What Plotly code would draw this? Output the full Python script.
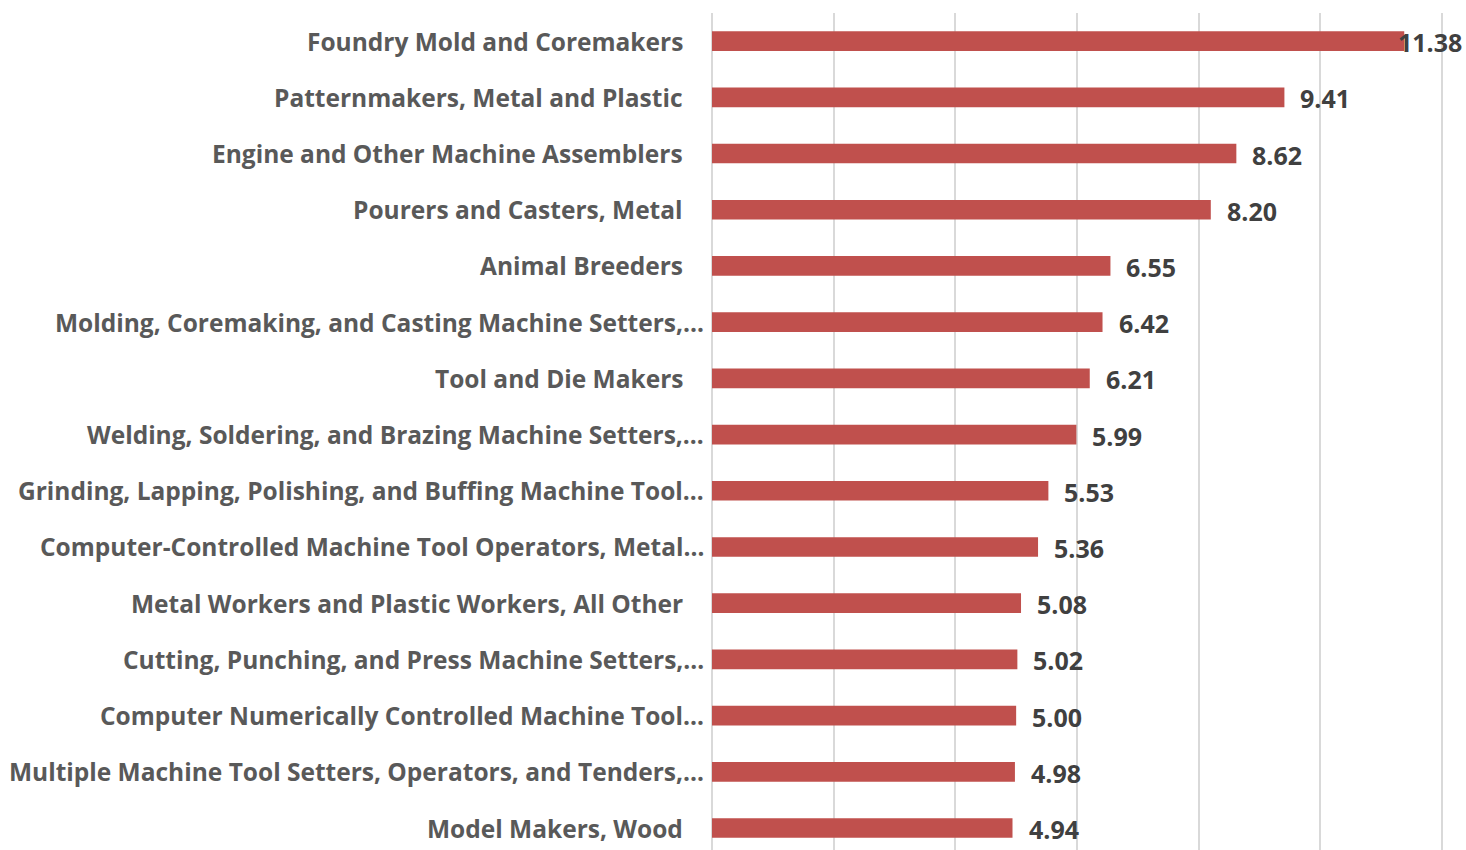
import plotly.graph_objects as go

categories = [
    "Foundry Mold and Coremakers",
    "Patternmakers, Metal and Plastic",
    "Engine and Other Machine Assemblers",
    "Pourers and Casters, Metal",
    "Animal Breeders",
    "Molding, Coremaking, and Casting Machine Setters,…",
    "Tool and Die Makers",
    "Welding, Soldering, and Brazing Machine Setters,…",
    "Grinding, Lapping, Polishing, and Buffing Machine Tool…",
    "Computer-Controlled Machine Tool Operators, Metal…",
    "Metal Workers and Plastic Workers, All Other",
    "Cutting, Punching, and Press Machine Setters,…",
    "Computer Numerically Controlled Machine Tool…",
    "Multiple Machine Tool Setters, Operators, and Tenders,…",
    "Model Makers, Wood",
]
values = [11.38, 9.41, 8.62, 8.20, 6.55, 6.42, 6.21, 5.99, 5.53, 5.36, 5.08, 5.02, 5.00, 4.98, 4.94]

FONT = "Open Sans"
fig = go.Figure()
fig.add_trace(go.Bar(
    y=categories, x=values, orientation="h",
    marker=dict(color="#C0504D", line=dict(width=0)),
    width=0.35,
    hoverinfo="x+y",
))

# value labels
for c, v in zip(categories, values):
    fig.add_annotation(
        x=v, y=c, text=f"{v:.2f}", showarrow=False,
        xanchor="left", xshift=(14 if v < 11 else -8), yshift=-1,
        font=dict(family=FONT, size=25, color="#404040", weight="bold"),
    )

# category labels (truncated ones sit closer to the axis, as in the source)
for c in categories:
    fig.add_annotation(
        x=0, xref="paper", y=c, text=c, showarrow=False,
        xanchor="right", xshift=(-6 if c.endswith("…") else -27), yshift=0,
        font=dict(family=FONT, size=24.5, color="#595959", weight="bold"),
    )

fig.update_layout(
    width=1466, height=850,
    margin=dict(l=712, r=21, t=13, b=0),
    plot_bgcolor="white", paper_bgcolor="white",
    showlegend=False,
    bargap=0.65,
    xaxis=dict(range=[0, 12.05], tickvals=[0, 2, 4, 6, 8, 10, 12], showgrid=True,
               gridcolor="#D9D9D9", gridwidth=1.5,
               zeroline=True, zerolinecolor="#D9D9D9", zerolinewidth=1.5,
               showticklabels=False, showline=False, fixedrange=True, automargin=False),
    yaxis=dict(categoryorder="array", categoryarray=categories, range=[14.391, -0.5],
               showgrid=False, zeroline=False, showline=False,
               ticks="", showticklabels=False, automargin=False),
)

fig.write_html(
    "out.html",
    config={"displayModeBar": False},
    post_script="document.body.style.margin='0';document.body.style.overflow='hidden';",
)
